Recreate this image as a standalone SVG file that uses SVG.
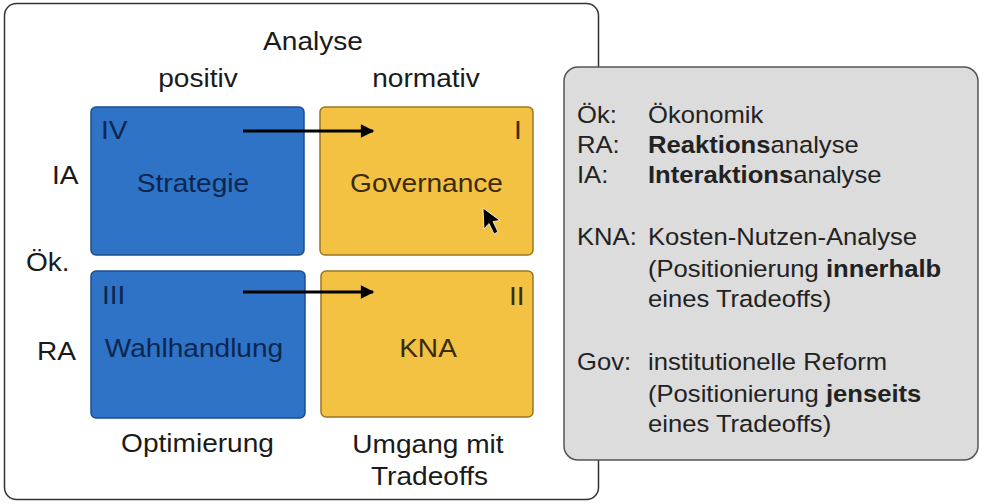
<svg xmlns="http://www.w3.org/2000/svg" width="985" height="504" viewBox="0 0 985 504">
<defs>
<style>
text{font-family:"Liberation Sans",Arial,sans-serif;}
.t{font-size:26px;fill:#1a1a1a;}
.tb{font-size:26px;fill:#0d2650;}
.ty{font-size:26px;fill:#3b2a0e;}
.m{text-anchor:middle;}
.lg{font-size:23.5px;fill:#222;}
.b{font-weight:bold;}
.blue{fill:#2e73c5;stroke:#1d4e8c;stroke-width:1.5;}
.yel{fill:#f4c243;stroke:#9b7424;stroke-width:1.5;}
.con{stroke:#000;stroke-width:3;fill:none;}
</style>
<marker id="ah" viewBox="0 0 10 10" refX="9" refY="5" markerWidth="5.5" markerHeight="4.5" markerUnits="strokeWidth" orient="auto">
<path d="M0,0 L10,5 L0,10 Z" fill="#000"/>
</marker>
</defs>
<rect width="985" height="504" fill="#fff"/>
<g id="frame">
<rect x="4.5" y="3.5" width="594" height="496" rx="12" fill="#fff" stroke="#333" stroke-width="1.5"/>
<text class="t m" transform="matrix(1.08 0 0 1 313 50)">Analyse</text>
<text class="t m" transform="matrix(1.08 0 0 1 198 87)">positiv</text>
<text class="t m" transform="matrix(1.08 0 0 1 426 87)">normativ</text>
<text class="t" transform="matrix(1.08 0 0 1 52 184)">IA</text>
<text class="t" transform="matrix(1.08 0 0 1 26 271)">Ök.</text>
<text class="t" transform="matrix(1.08 0 0 1 37 360)">RA</text>
<text class="t m" transform="matrix(1.08 0 0 1 197.5 452)">Optimierung</text>
<text class="t m" transform="matrix(1.08 0 0 1 428 453)">Umgang mit</text>
<text class="t m" transform="matrix(1.08 0 0 1 429.5 485)">Tradeoffs</text>
</g>
<g id="node-IV">
<rect class="blue" x="91" y="107" width="213" height="148" rx="5"/>
<text class="tb" transform="matrix(1.08 0 0 1 101 139)">IV</text>
<text class="tb m" transform="matrix(1.08 0 0 1 193 192)">Strategie</text>
</g>
<g id="node-I">
<rect class="yel" x="320" y="107" width="213" height="148" rx="5"/>
<text class="ty" transform="matrix(1.08 0 0 1 514 139)">I</text>
<text class="ty m" transform="matrix(1.08 0 0 1 426.5 192)">Governance</text>
</g>
<g id="node-III">
<rect class="blue" x="91" y="271" width="214" height="147" rx="5"/>
<text class="tb" transform="matrix(1.08 0 0 1 102 304)">III</text>
<text class="tb m" transform="matrix(1.08 0 0 1 194 357)">Wahlhandlung</text>
</g>
<g id="node-II">
<rect class="yel" x="321" y="271" width="212" height="146" rx="5"/>
<text class="ty" transform="matrix(1.08 0 0 1 509 305)">II</text>
<text class="ty m" transform="matrix(1.08 0 0 1 428 357)">KNA</text>
</g>
<g id="connectors">
<line class="con" x1="243" y1="131" x2="373" y2="131" marker-end="url(#ah)"/>
<line class="con" x1="243" y1="292" x2="373" y2="292" marker-end="url(#ah)"/>
</g>
<g id="cursor">
<polygon points="483,208 484,229 489,223.5 494,234 498,232 493,221.5 500,220.5" fill="#000" stroke="#fff" stroke-width="0.8"/>
</g>
<g id="legend">
<rect x="564" y="67" width="414" height="393" rx="14" fill="#dcdcdc" stroke="#555" stroke-width="1.5"/>
<text class="lg" transform="matrix(1.09 0 0 1 577 123)">Ök:</text>
<text class="lg" transform="matrix(1.09 0 0 1 648 123)">Ökonomik</text>
<text class="lg" transform="matrix(1.09 0 0 1 577 153)">RA:</text>
<text class="lg" transform="matrix(1.09 0 0 1 648 153)"><tspan class="b">Reaktions</tspan>analyse</text>
<text class="lg" transform="matrix(1.09 0 0 1 577 183)">IA:</text>
<text class="lg" transform="matrix(1.09 0 0 1 648 183)"><tspan class="b">Interaktions</tspan>analyse</text>
<text class="lg" transform="matrix(1.09 0 0 1 577 245)">KNA:</text>
<text class="lg" transform="matrix(1.09 0 0 1 648 245)">Kosten-Nutzen-Analyse</text>
<text class="lg" transform="matrix(1.09 0 0 1 648 277)">(Positionierung <tspan class="b">innerhalb</tspan></text>
<text class="lg" transform="matrix(1.09 0 0 1 648 307)">eines Tradeoffs)</text>
<text class="lg" transform="matrix(1.09 0 0 1 577 370)">Gov:</text>
<text class="lg" transform="matrix(1.09 0 0 1 648 370)">institutionelle Reform</text>
<text class="lg" transform="matrix(1.09 0 0 1 648 402)">(Positionierung <tspan class="b">jenseits</tspan></text>
<text class="lg" transform="matrix(1.09 0 0 1 648 432)">eines Tradeoffs)</text>
</g>
</svg>
